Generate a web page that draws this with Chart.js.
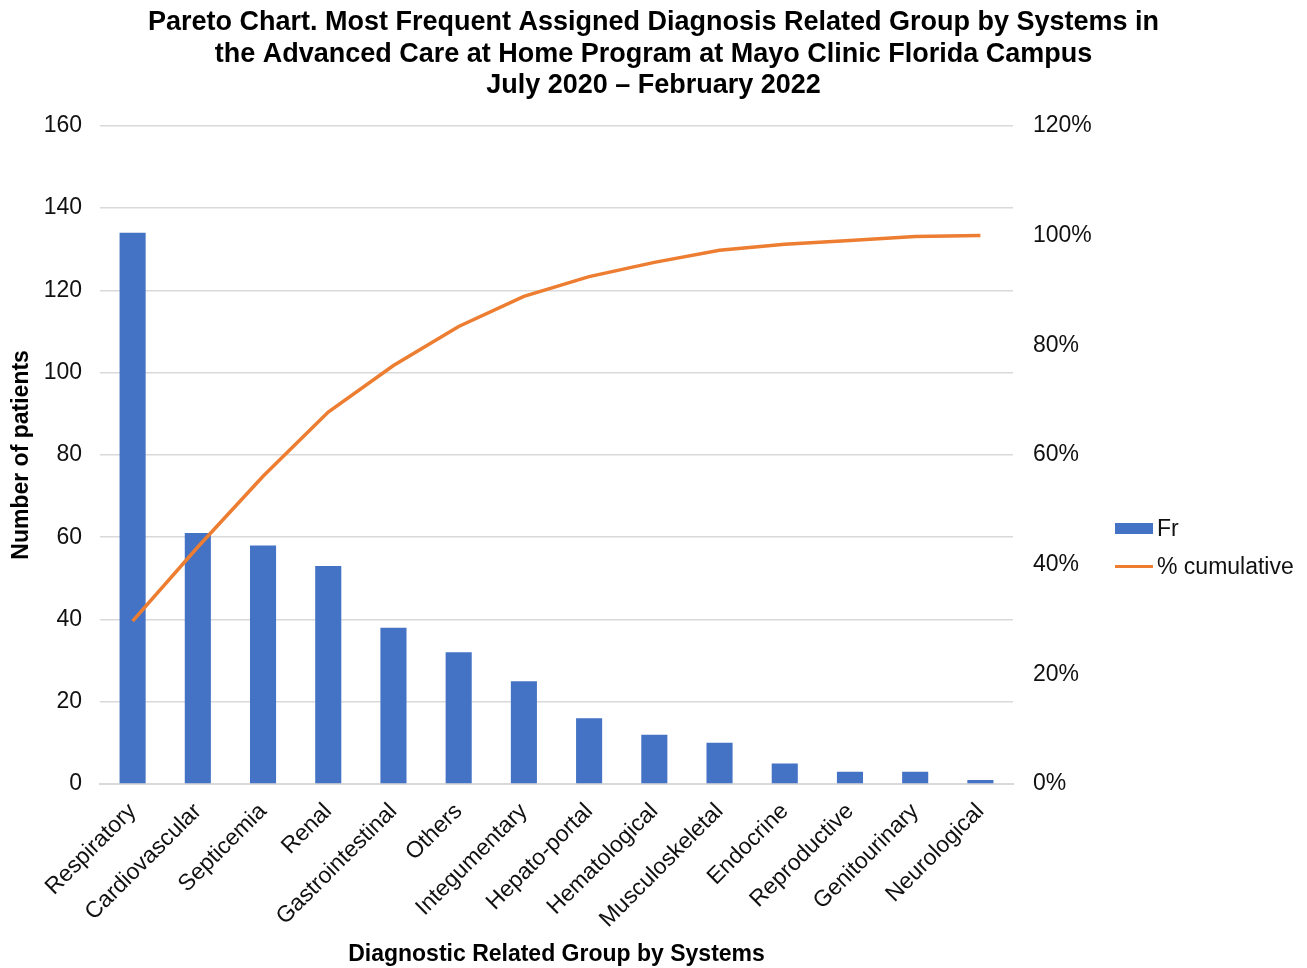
<!DOCTYPE html>
<html>
<head>
<meta charset="utf-8">
<script src="https://cdn.jsdelivr.net/npm/chart.js@4/dist/chart.umd.min.js"></script>
<style>
  body { margin: 0; background: #fff; font-family: "Liberation Sans", Arial, sans-serif; }
  #wrap { position: relative; width: 1307px; height: 968px; }
  .leg { position: absolute; left: 1115px; font-size: 23px; color: #111; line-height: 23px; }
  .leg span.sw { position: absolute; left: 0; width: 38px; }
  .leg span.tx { position: absolute; left: 42px; top: 0; white-space: nowrap; }
</style>
</head>
<body>
<div id="wrap">
  <canvas id="pareto" width="1307" height="968"></canvas>
  <div class="leg" style="top:517px;"><span class="sw" style="top:6px;height:11px;background:#4472C4;"></span><span class="tx">Fr</span></div>
  <div class="leg" style="top:555px;"><span class="sw" style="top:10px;height:3px;background:#ED7D31;"></span><span class="tx">% cumulative</span></div>
</div>
<script>
// categories and values
var groups = ['Respiratory', 'Cardiovascular', 'Septicemia', 'Renal', 'Gastrointestinal', 'Others',
    'Integumentary', 'Hepato-portal', 'Hematological', 'Musculoskeletal', 'Endocrine',
    'Reproductive', 'Genitourinary', 'Neurological'];
var frequency = [134, 61, 58, 53, 38, 32, 25, 16, 12, 10, 5, 3, 3, 1];
var cumulativePct = [29.7, 43.2, 56.1, 67.8, 76.3, 83.4, 88.9, 92.5, 95.1, 97.3, 98.4, 99.1, 99.8, 100];

var titleLines = [
    'Pareto Chart. Most Frequent Assigned Diagnosis Related Group by Systems in',
    'the Advanced Care at Home Program at Mayo Clinic Florida Campus',
    'July 2020 \u2013 February 2022'
];

var fontName = '"Liberation Sans", Arial, sans-serif';
var gridColor = '#D9D9D9';

function initializeParetoChart() {
    const ctx = document.getElementById('pareto').getContext('2d');

    new Chart(ctx, {
        type: 'bar',
        data: {
            labels: groups,
            datasets: [{
                type: 'line',
                label: '% cumulative',
                data: cumulativePct,
                yAxisID: 'y1',
                borderColor: '#ED7D31',
                borderWidth: 3.5,
                pointRadius: 0,
                tension: 0,
                order: 0
            }, {
                label: 'Fr',
                data: frequency,
                yAxisID: 'y',
                backgroundColor: '#4472C4',
                categoryPercentage: 1,
                barPercentage: 0.4,
                order: 1
            }]
        },
        options: {
            responsive: false,
            animation: false,
            layout: { padding: 0 },
            plugins: {
                legend: { display: false },
                tooltip: { enabled: false },
                title: {
                    display: true,
                    text: titleLines,
                    color: '#000',
                    font: { family: fontName, size: 27, weight: 'bold', lineHeight: 1.17 },
                    padding: { top: 7, bottom: 24 }
                }
            },
            scales: {
                x: {
                    grid: { display: false },
                    border: { color: gridColor, width: 2 },
                    ticks: {
                        color: '#111',
                        font: { family: fontName, size: 23 },
                        minRotation: 45,
                        maxRotation: 45,
                        padding: 6,
                        autoSkip: false
                    },
                    title: {
                        display: true,
                        text: 'Diagnostic Related Group by Systems',
                        color: '#000',
                        font: { family: fontName, size: 23, weight: 'bold' },
                        padding: { top: 0, bottom: 0 }
                    },
                    afterFit: function (scale) { scale.height = 184; }
                },
                y: {
                    position: 'left',
                    min: 0,
                    max: 160,
                    ticks: {
                        stepSize: 20,
                        color: '#111',
                        font: { family: fontName, size: 23 },
                        padding: 18
                    },
                    grid: { color: gridColor, lineWidth: 1.5, drawTicks: false },
                    border: { display: false },
                    title: {
                        display: true,
                        text: 'Number of patients',
                        color: '#000',
                        font: { family: fontName, size: 23, weight: 'bold' },
                        padding: { top: 8, bottom: 0 }
                    },
                    afterFit: function (scale) { scale.width = 100; }
                },
                y1: {
                    position: 'right',
                    min: 0,
                    max: 120,
                    ticks: {
                        stepSize: 20,
                        color: '#111',
                        font: { family: fontName, size: 23 },
                        padding: 20,
                        callback: function (v) { return v + '%'; }
                    },
                    grid: { display: false, drawTicks: false },
                    border: { display: false },
                    afterFit: function (scale) { scale.width = 294; }
                }
            }
        }
    });
}

document.addEventListener('DOMContentLoaded', initializeParetoChart);
</script>
</body>
</html>
